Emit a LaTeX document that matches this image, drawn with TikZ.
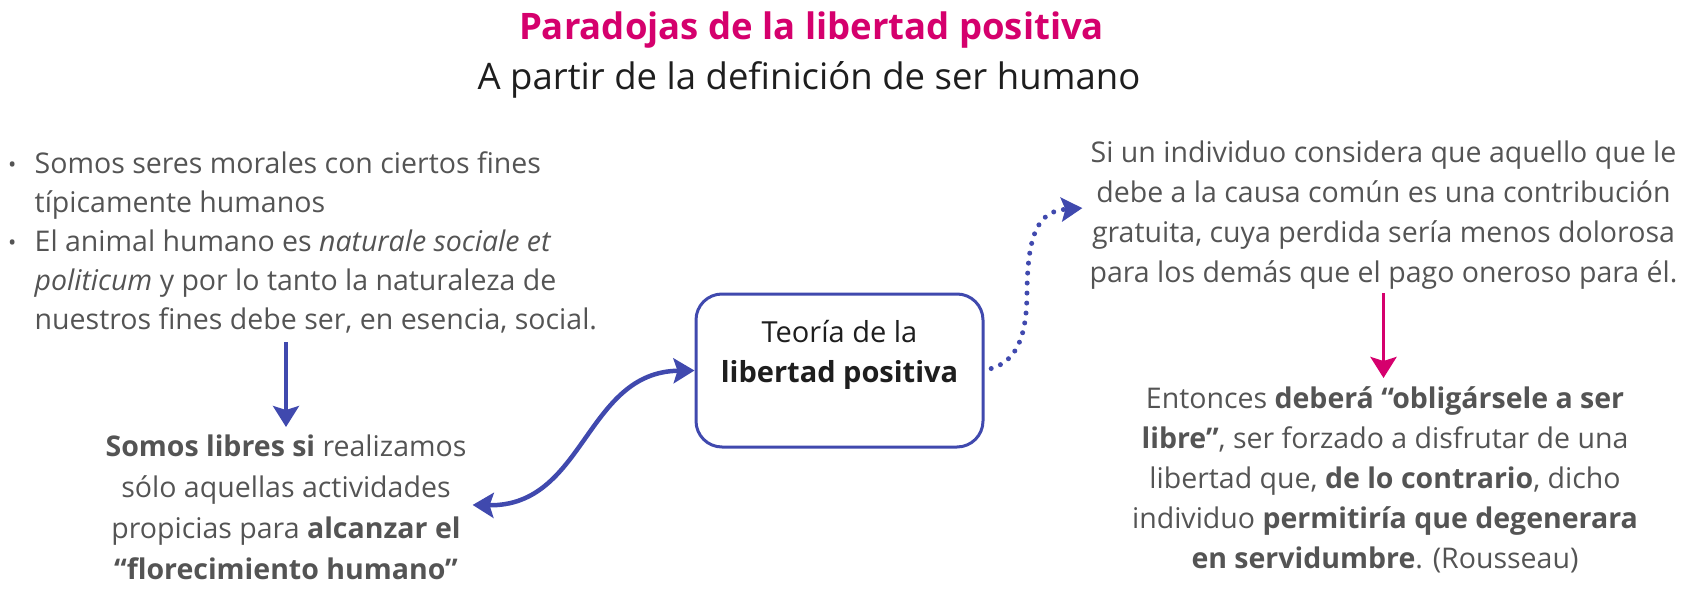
\documentclass[tikz,border=0pt]{standalone}
\usepackage{fontspec}
\setmainfont{Open Sans}
\usetikzlibrary{arrows.meta}
\definecolor{txt}{HTML}{545454}
\definecolor{dark}{HTML}{1E1E1E}
\definecolor{pk}{HTML}{D5006D}
\definecolor{bl}{HTML}{4049AE}
\newcommand{\tstrut}{\rule{0pt}{26pt}}
\newcommand{\bul}{\makebox[26.5pt][l]{\fontsize{22}{22}\selectfont\raisebox{1pt}{•}}}
\newcommand{\ind}{\hspace*{26.5pt}}
\begin{document}
\begin{tikzpicture}[x=1pt,y=-1pt,
  body/.style={inner sep=0pt, text=txt, font=\fontsize{28.5}{40}\selectfont, align=center},
  arr/.style={line width=3.8pt, -{Stealth[length=21pt,width=26pt,inset=4pt]}},
  dbl/.style={line width=4.5pt, {Stealth[length=21pt,width=25pt,inset=4pt]}-{Stealth[length=21pt,width=25pt,inset=4pt]}},
  dots/.style={line width=5pt, line cap=round, dash pattern=on 0pt off 10pt, -{Stealth[length=21pt,width=24pt,inset=4pt]}},
  boxstyle/.style={draw=bl, line width=3pt, rounded corners=26pt, minimum width=287pt, minimum height=153pt, inner sep=0pt, fill=white}
]
\useasboundingbox (0,0) rectangle (1681,594);

\node[anchor=base, text=pk, font=\fontsize{36.5}{42}\selectfont\bfseries, inner sep=0pt] (title) at (811.5,40) {Paradojas de la libertad positiva};
\node[anchor=base, text=dark, font=\fontsize{36.5}{42}\selectfont, inner sep=0pt] (sub) at (809,89) {A partir de la definición de ser humano};

\node[body, align=left, anchor=north west, font=\fontsize{28.5}{39}\selectfont] (ideas) at (8,147)
 {\tstrut\bul Somos seres morales con ciertos fines\\
  \ind típicamente humanos\\
  \bul El animal humano es \textit{naturale sociale et}\\
  \ind\textit{politicum} y por lo tanto la naturaleza de\\
  \ind nuestros fines debe ser, en esencia, social.};

\node[body, anchor=north, font=\fontsize{28.5}{41}\selectfont] (libres) at (286,430)
 {\tstrut\textbf{Somos libres si} realizamos\\
  sólo aquellas actividades\\
  propicias para \textbf{alcanzar el}\\
  \textbf{“florecimiento humano”}};

\node[boxstyle] (box) at (839.5,370.5) {};
\node[inner sep=0pt, text=dark, font=\fontsize{29}{40}\selectfont, align=center, anchor=north] (boxt) at (839.5,315)
 {\rule{0pt}{27pt}Teoría de la\\\textbf{libertad positiva}};

\node[body, anchor=north] (rtop) at (1383.5,136)
 {\tstrut Si un individuo considera que aquello que le\\
  debe a la causa común es una contribución\\
  gratuita, cuya perdida sería menos dolorosa\\
  para los demás que el pago oneroso para él.};

\node[body, anchor=north] (rbot) at (1385,382)
 {\tstrut Entonces \textbf{deberá “obligársele a ser}\\
  \textbf{libre”}, ser forzado a disfrutar de una\\
  libertad que, \textbf{de lo contrario}, dicho\\
  individuo \textbf{permitiría que degenerara}\\
  \textbf{en servidumbre}. (Rousseau)};

\draw[arr, draw=bl, shorten <=9pt, shorten >=3pt] (ideas.south -| libres.north) -- (libres.north);
\draw[arr, draw=pk, shorten <=4pt, shorten >=4pt] (rtop.south) -- (rtop.south |- rbot.north);
\draw[dbl, draw=bl, shorten >=6pt] (box.west) .. controls (585,372) and (585,507) .. (libres.east);
\draw[dots, draw=bl, shorten <=7pt, shorten >=7pt] (box.east) .. controls (1020,360) and (1027,330) .. (1027,290) .. controls (1028,230) and (1040,211) .. ([yshift=5pt]rtop.west);
\end{tikzpicture}
\end{document}
